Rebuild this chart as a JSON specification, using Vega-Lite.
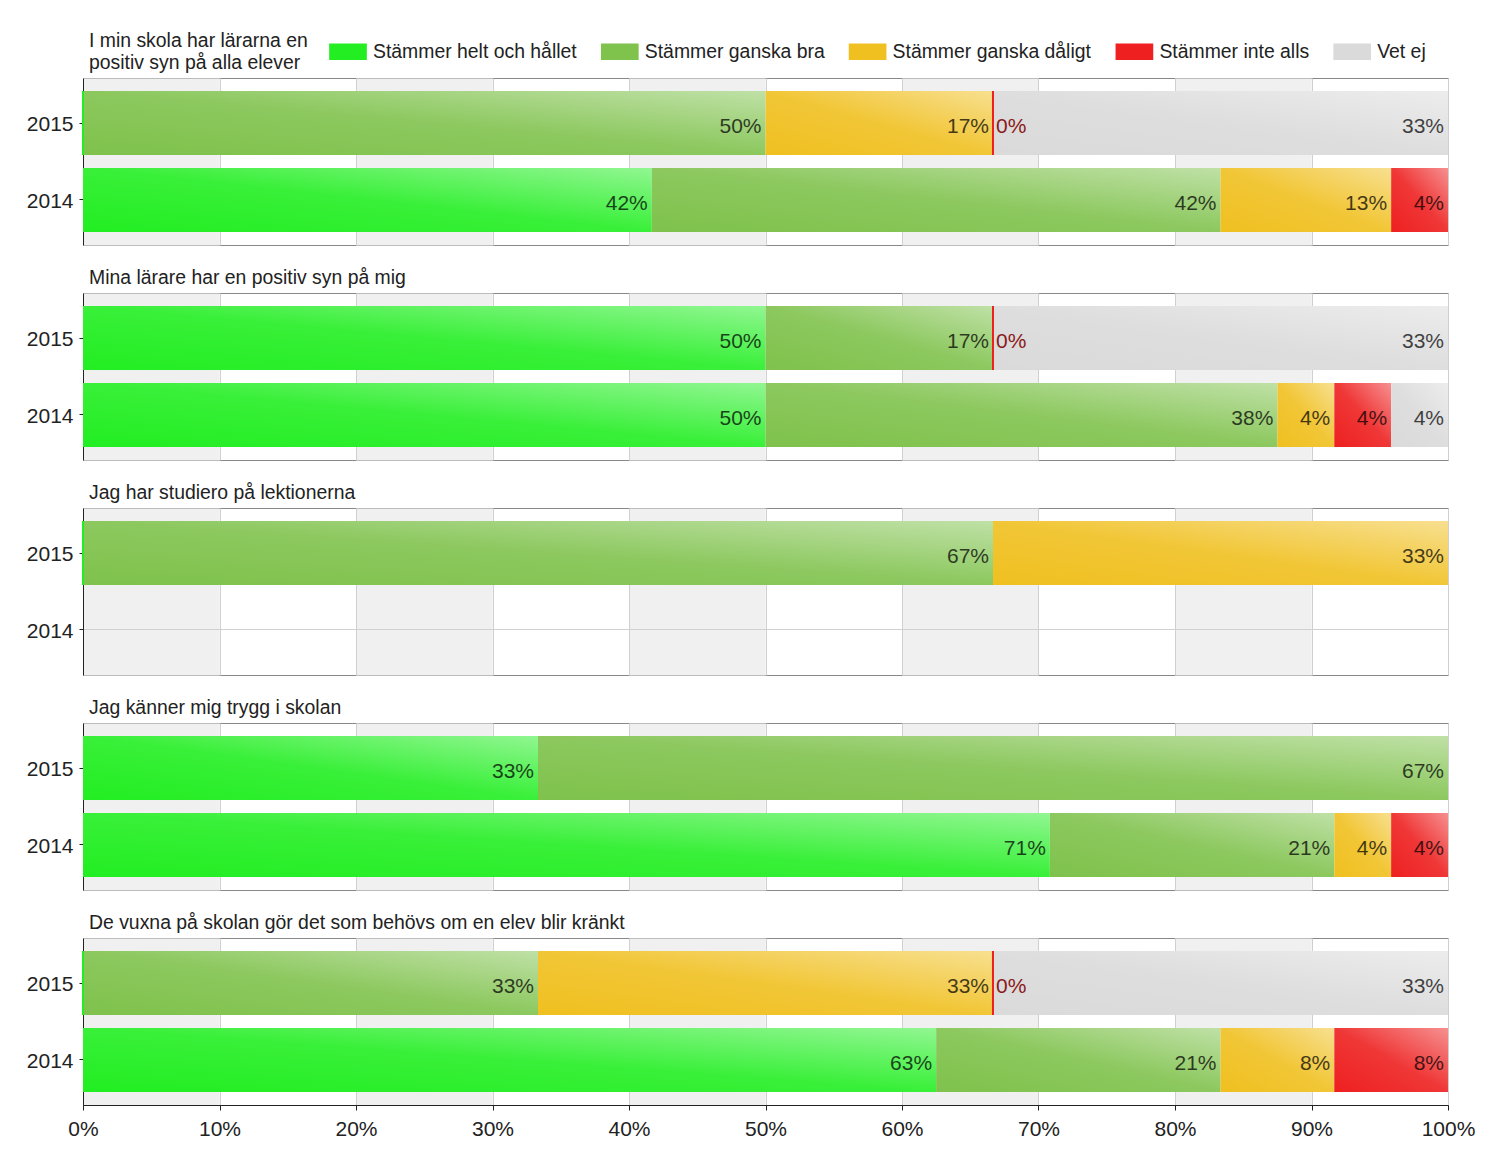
{
  "$schema": "https://vega.github.io/schema/vega-lite/v6.json",
  "padding": {"left": 25, "top": 30, "right": 5, "bottom": 5},
  "background": "white",
  "data": {"values": [
    {"q":1,"year":"2015","c":"Stämmer helt och hållet","r":1,"v":0},
    {"q":1,"year":"2015","c":"Stämmer ganska bra","r":2,"v":0.5},
    {"q":1,"year":"2015","c":"Stämmer ganska dåligt","r":3,"v":0.16667},
    {"q":1,"year":"2015","c":"Stämmer inte alls","r":4,"v":0},
    {"q":1,"year":"2015","c":"Vet ej","r":5,"v":0.33333},
    {"q":1,"year":"2014","c":"Stämmer helt och hållet","r":1,"v":0.41667},
    {"q":1,"year":"2014","c":"Stämmer ganska bra","r":2,"v":0.41667},
    {"q":1,"year":"2014","c":"Stämmer ganska dåligt","r":3,"v":0.125},
    {"q":1,"year":"2014","c":"Stämmer inte alls","r":4,"v":0.04166},
    {"q":2,"year":"2015","c":"Stämmer helt och hållet","r":1,"v":0.5},
    {"q":2,"year":"2015","c":"Stämmer ganska bra","r":2,"v":0.16667},
    {"q":2,"year":"2015","c":"Stämmer inte alls","r":4,"v":0},
    {"q":2,"year":"2015","c":"Vet ej","r":5,"v":0.33333},
    {"q":2,"year":"2014","c":"Stämmer helt och hållet","r":1,"v":0.5},
    {"q":2,"year":"2014","c":"Stämmer ganska bra","r":2,"v":0.375},
    {"q":2,"year":"2014","c":"Stämmer ganska dåligt","r":3,"v":0.04167},
    {"q":2,"year":"2014","c":"Stämmer inte alls","r":4,"v":0.04167},
    {"q":2,"year":"2014","c":"Vet ej","r":5,"v":0.04166},
    {"q":3,"year":"2015","c":"Stämmer helt och hållet","r":1,"v":0},
    {"q":3,"year":"2015","c":"Stämmer ganska bra","r":2,"v":0.66667},
    {"q":3,"year":"2015","c":"Stämmer ganska dåligt","r":3,"v":0.33333},
    {"q":4,"year":"2015","c":"Stämmer helt och hållet","r":1,"v":0.33333},
    {"q":4,"year":"2015","c":"Stämmer ganska bra","r":2,"v":0.66667},
    {"q":4,"year":"2014","c":"Stämmer helt och hållet","r":1,"v":0.70833},
    {"q":4,"year":"2014","c":"Stämmer ganska bra","r":2,"v":0.20833},
    {"q":4,"year":"2014","c":"Stämmer ganska dåligt","r":3,"v":0.04167},
    {"q":4,"year":"2014","c":"Stämmer inte alls","r":4,"v":0.04167},
    {"q":5,"year":"2015","c":"Stämmer helt och hållet","r":1,"v":0},
    {"q":5,"year":"2015","c":"Stämmer ganska bra","r":2,"v":0.33333},
    {"q":5,"year":"2015","c":"Stämmer ganska dåligt","r":3,"v":0.33333},
    {"q":5,"year":"2015","c":"Stämmer inte alls","r":4,"v":0},
    {"q":5,"year":"2015","c":"Vet ej","r":5,"v":0.33333},
    {"q":5,"year":"2014","c":"Stämmer helt och hållet","r":1,"v":0.625},
    {"q":5,"year":"2014","c":"Stämmer ganska bra","r":2,"v":0.20833},
    {"q":5,"year":"2014","c":"Stämmer ganska dåligt","r":3,"v":0.08333},
    {"q":5,"year":"2014","c":"Stämmer inte alls","r":4,"v":0.08333}
  ]},
  "spacing": 21,
  "vconcat": [
    {
      "title": {"text": ["I min skola har lärarna en", "positiv syn på alla elever"]},
      "width": 1365, "height": 167,
      "transform": [{"filter": "datum.q == 1"}, {"stack": "v", "groupby": ["year"], "sort": [{"field": "r", "order": "ascending"}], "as": ["x0", "x1"]}],
      "encoding": {"y": {"field": "year", "type": "nominal", "scale": {"domain": ["2015", "2014"], "paddingInner": 0.17, "paddingOuter": 0.17}, "axis": {"title": null, "grid": true, "gridColor": "#d0d0d0", "domainColor": "#222", "tickColor": "#222", "tickSize": 4, "labelFontSize": 21, "labelColor": "#222", "labelPadding": 6, "labelOffset": 2, "labelFont": "Liberation Sans"}}},
      "resolve": {"axis": {"x": "independent"}},
      "layer": [
        {"mark": {"type": "bar"}, "encoding": {
          "x": {"field": "x0", "type": "quantitative", "scale": {"domain": [0, 1], "nice": false}, "axis": {"orient": "top", "values": [0.05, 0.25, 0.45, 0.65, 0.85], "grid": true, "gridColor": "#f0f0f0", "gridWidth": 136.5, "labels": false, "ticks": false, "domain": false, "title": null}},
          "x2": {"field": "x1"},
          "color": {"field": "c", "type": "nominal", "scale": {"domain": ["Stämmer helt och hållet", "Stämmer ganska bra", "Stämmer ganska dåligt", "Stämmer inte alls", "Vet ej"], "range": ["#22ee22", "#7fc24c", "#f0c020", "#ee2020", "#dadada"]},
            "legend": {"orient": "none", "legendX": 246, "legendY": -45.5, "direction": "horizontal", "title": null, "symbolType": "M-1,-0.44H1V0.44H-1Z", "symbolSize": 1420, "symbolStrokeWidth": 0, "symbolOpacity": 1, "labelFontSize": 19.4, "labelFont": "Liberation Sans", "labelColor": "#222", "labelOffset": 6, "columnPadding": 23.8, "labelLimit": 400}}
        }},
        {"mark": {"type": "bar", "fill": {"gradient": "linear", "x1": 0, "y1": 1, "x2": 1, "y2": 0, "stops": [{"offset": 0, "color": "rgba(255,255,255,0)"}, {"offset": 0.5, "color": "rgba(255,255,255,0.1)"}, {"offset": 1, "color": "rgba(255,255,255,0.5)"}]}}, "transform": [{"filter": "datum.v > 0"}], "encoding": {
          "x": {"field": "x0", "type": "quantitative", "axis": {"orient": "bottom", "values": [0, 0.1, 0.2, 0.3, 0.4, 0.5, 0.6, 0.7, 0.8, 0.9, 1], "grid": true, "gridColor": "#d0d0d0", "labels": false, "ticks": false, "domain": false, "title": null}},
          "x2": {"field": "x1"}
        }},
        {"mark": {"type": "bar", "filled": false, "strokeWidth": 2}, "transform": [{"filter": "datum.v == 0"}], "encoding": {
          "x": {"field": "x0", "type": "quantitative", "axis": null}, "x2": {"field": "x1"},
          "color": {"field": "c", "type": "nominal"}
        }},
        {"mark": {"type": "text", "align": "right", "dx": -4, "dy": 4, "fontSize": 21, "font": "Liberation Sans", "fill": "#000", "opacity": 0.72}, "transform": [{"filter": "datum.v > 0"}], "encoding": {
          "x": {"field": "x1", "type": "quantitative", "axis": null},
          "text": {"field": "v", "type": "quantitative", "format": ".0%"}
        }},
        {"mark": {"type": "text", "align": "left", "dx": 3, "dy": 4, "fontSize": 21, "font": "Liberation Sans", "fill": "#8b1a1a"}, "transform": [{"filter": "datum.v == 0 && datum.x0 > 0"}], "encoding": {
          "x": {"field": "x0", "type": "quantitative", "axis": null},
          "text": {"field": "v", "type": "quantitative", "format": ".0%"}
        }}
      ]
    },
    {
      "title": {"text": "Mina lärare har en positiv syn på mig"},
      "width": 1365, "height": 167,
      "transform": [{"filter": "datum.q == 2"}, {"stack": "v", "groupby": ["year"], "sort": [{"field": "r", "order": "ascending"}], "as": ["x0", "x1"]}],
      "encoding": {"y": {"field": "year", "type": "nominal", "scale": {"domain": ["2015", "2014"], "paddingInner": 0.17, "paddingOuter": 0.17}, "axis": {"title": null, "grid": true, "gridColor": "#d0d0d0", "domainColor": "#222", "tickColor": "#222", "tickSize": 4, "labelFontSize": 21, "labelColor": "#222", "labelPadding": 6, "labelOffset": 2, "labelFont": "Liberation Sans"}}},
      "resolve": {"axis": {"x": "independent"}},
      "layer": [
        {"mark": {"type": "bar"}, "encoding": {
          "x": {"field": "x0", "type": "quantitative", "scale": {"domain": [0, 1], "nice": false}, "axis": {"orient": "top", "values": [0.05, 0.25, 0.45, 0.65, 0.85], "grid": true, "gridColor": "#f0f0f0", "gridWidth": 136.5, "labels": false, "ticks": false, "domain": false, "title": null}},
          "x2": {"field": "x1"},
          "color": {"field": "c", "type": "nominal"}
        }},
        {"mark": {"type": "bar", "fill": {"gradient": "linear", "x1": 0, "y1": 1, "x2": 1, "y2": 0, "stops": [{"offset": 0, "color": "rgba(255,255,255,0)"}, {"offset": 0.5, "color": "rgba(255,255,255,0.1)"}, {"offset": 1, "color": "rgba(255,255,255,0.5)"}]}}, "transform": [{"filter": "datum.v > 0"}], "encoding": {
          "x": {"field": "x0", "type": "quantitative", "axis": {"orient": "bottom", "values": [0, 0.1, 0.2, 0.3, 0.4, 0.5, 0.6, 0.7, 0.8, 0.9, 1], "grid": true, "gridColor": "#d0d0d0", "labels": false, "ticks": false, "domain": false, "title": null}},
          "x2": {"field": "x1"}
        }},
        {"mark": {"type": "bar", "filled": false, "strokeWidth": 2}, "transform": [{"filter": "datum.v == 0"}], "encoding": {
          "x": {"field": "x0", "type": "quantitative", "axis": null}, "x2": {"field": "x1"},
          "color": {"field": "c", "type": "nominal"}
        }},
        {"mark": {"type": "text", "align": "right", "dx": -4, "dy": 4, "fontSize": 21, "font": "Liberation Sans", "fill": "#000", "opacity": 0.72}, "transform": [{"filter": "datum.v > 0"}], "encoding": {
          "x": {"field": "x1", "type": "quantitative", "axis": null},
          "text": {"field": "v", "type": "quantitative", "format": ".0%"}
        }},
        {"mark": {"type": "text", "align": "left", "dx": 3, "dy": 4, "fontSize": 21, "font": "Liberation Sans", "fill": "#8b1a1a"}, "transform": [{"filter": "datum.v == 0 && datum.x0 > 0"}], "encoding": {
          "x": {"field": "x0", "type": "quantitative", "axis": null},
          "text": {"field": "v", "type": "quantitative", "format": ".0%"}
        }}
      ]
    },
    {
      "title": {"text": "Jag har studiero på lektionerna"},
      "width": 1365, "height": 167,
      "transform": [{"filter": "datum.q == 3"}, {"stack": "v", "groupby": ["year"], "sort": [{"field": "r", "order": "ascending"}], "as": ["x0", "x1"]}],
      "encoding": {"y": {"field": "year", "type": "nominal", "scale": {"domain": ["2015", "2014"], "paddingInner": 0.17, "paddingOuter": 0.17}, "axis": {"title": null, "grid": true, "gridColor": "#d0d0d0", "domainColor": "#222", "tickColor": "#222", "tickSize": 4, "labelFontSize": 21, "labelColor": "#222", "labelPadding": 6, "labelOffset": 2, "labelFont": "Liberation Sans"}}},
      "resolve": {"axis": {"x": "independent"}},
      "layer": [
        {"mark": {"type": "bar"}, "encoding": {
          "x": {"field": "x0", "type": "quantitative", "scale": {"domain": [0, 1], "nice": false}, "axis": {"orient": "top", "values": [0.05, 0.25, 0.45, 0.65, 0.85], "grid": true, "gridColor": "#f0f0f0", "gridWidth": 136.5, "labels": false, "ticks": false, "domain": false, "title": null}},
          "x2": {"field": "x1"},
          "color": {"field": "c", "type": "nominal"}
        }},
        {"mark": {"type": "bar", "fill": {"gradient": "linear", "x1": 0, "y1": 1, "x2": 1, "y2": 0, "stops": [{"offset": 0, "color": "rgba(255,255,255,0)"}, {"offset": 0.5, "color": "rgba(255,255,255,0.1)"}, {"offset": 1, "color": "rgba(255,255,255,0.5)"}]}}, "transform": [{"filter": "datum.v > 0"}], "encoding": {
          "x": {"field": "x0", "type": "quantitative", "axis": {"orient": "bottom", "values": [0, 0.1, 0.2, 0.3, 0.4, 0.5, 0.6, 0.7, 0.8, 0.9, 1], "grid": true, "gridColor": "#d0d0d0", "labels": false, "ticks": false, "domain": false, "title": null}},
          "x2": {"field": "x1"}
        }},
        {"mark": {"type": "bar", "filled": false, "strokeWidth": 2}, "transform": [{"filter": "datum.v == 0"}], "encoding": {
          "x": {"field": "x0", "type": "quantitative", "axis": null}, "x2": {"field": "x1"},
          "color": {"field": "c", "type": "nominal"}
        }},
        {"mark": {"type": "text", "align": "right", "dx": -4, "dy": 4, "fontSize": 21, "font": "Liberation Sans", "fill": "#000", "opacity": 0.72}, "transform": [{"filter": "datum.v > 0"}], "encoding": {
          "x": {"field": "x1", "type": "quantitative", "axis": null},
          "text": {"field": "v", "type": "quantitative", "format": ".0%"}
        }},
        {"mark": {"type": "text", "align": "left", "dx": 3, "dy": 4, "fontSize": 21, "font": "Liberation Sans", "fill": "#8b1a1a"}, "transform": [{"filter": "datum.v == 0 && datum.x0 > 0"}], "encoding": {
          "x": {"field": "x0", "type": "quantitative", "axis": null},
          "text": {"field": "v", "type": "quantitative", "format": ".0%"}
        }}
      ]
    },
    {
      "title": {"text": "Jag känner mig trygg i skolan"},
      "width": 1365, "height": 167,
      "transform": [{"filter": "datum.q == 4"}, {"stack": "v", "groupby": ["year"], "sort": [{"field": "r", "order": "ascending"}], "as": ["x0", "x1"]}],
      "encoding": {"y": {"field": "year", "type": "nominal", "scale": {"domain": ["2015", "2014"], "paddingInner": 0.17, "paddingOuter": 0.17}, "axis": {"title": null, "grid": true, "gridColor": "#d0d0d0", "domainColor": "#222", "tickColor": "#222", "tickSize": 4, "labelFontSize": 21, "labelColor": "#222", "labelPadding": 6, "labelOffset": 2, "labelFont": "Liberation Sans"}}},
      "resolve": {"axis": {"x": "independent"}},
      "layer": [
        {"mark": {"type": "bar"}, "encoding": {
          "x": {"field": "x0", "type": "quantitative", "scale": {"domain": [0, 1], "nice": false}, "axis": {"orient": "top", "values": [0.05, 0.25, 0.45, 0.65, 0.85], "grid": true, "gridColor": "#f0f0f0", "gridWidth": 136.5, "labels": false, "ticks": false, "domain": false, "title": null}},
          "x2": {"field": "x1"},
          "color": {"field": "c", "type": "nominal"}
        }},
        {"mark": {"type": "bar", "fill": {"gradient": "linear", "x1": 0, "y1": 1, "x2": 1, "y2": 0, "stops": [{"offset": 0, "color": "rgba(255,255,255,0)"}, {"offset": 0.5, "color": "rgba(255,255,255,0.1)"}, {"offset": 1, "color": "rgba(255,255,255,0.5)"}]}}, "transform": [{"filter": "datum.v > 0"}], "encoding": {
          "x": {"field": "x0", "type": "quantitative", "axis": {"orient": "bottom", "values": [0, 0.1, 0.2, 0.3, 0.4, 0.5, 0.6, 0.7, 0.8, 0.9, 1], "grid": true, "gridColor": "#d0d0d0", "labels": false, "ticks": false, "domain": false, "title": null}},
          "x2": {"field": "x1"}
        }},
        {"mark": {"type": "bar", "filled": false, "strokeWidth": 2}, "transform": [{"filter": "datum.v == 0"}], "encoding": {
          "x": {"field": "x0", "type": "quantitative", "axis": null}, "x2": {"field": "x1"},
          "color": {"field": "c", "type": "nominal"}
        }},
        {"mark": {"type": "text", "align": "right", "dx": -4, "dy": 4, "fontSize": 21, "font": "Liberation Sans", "fill": "#000", "opacity": 0.72}, "transform": [{"filter": "datum.v > 0"}], "encoding": {
          "x": {"field": "x1", "type": "quantitative", "axis": null},
          "text": {"field": "v", "type": "quantitative", "format": ".0%"}
        }},
        {"mark": {"type": "text", "align": "left", "dx": 3, "dy": 4, "fontSize": 21, "font": "Liberation Sans", "fill": "#8b1a1a"}, "transform": [{"filter": "datum.v == 0 && datum.x0 > 0"}], "encoding": {
          "x": {"field": "x0", "type": "quantitative", "axis": null},
          "text": {"field": "v", "type": "quantitative", "format": ".0%"}
        }}
      ]
    },
    {
      "title": {"text": "De vuxna på skolan gör det som behövs om en elev blir kränkt"},
      "width": 1365, "height": 167,
      "transform": [{"filter": "datum.q == 5"}, {"stack": "v", "groupby": ["year"], "sort": [{"field": "r", "order": "ascending"}], "as": ["x0", "x1"]}],
      "encoding": {"y": {"field": "year", "type": "nominal", "scale": {"domain": ["2015", "2014"], "paddingInner": 0.17, "paddingOuter": 0.17}, "axis": {"title": null, "grid": true, "gridColor": "#d0d0d0", "domainColor": "#222", "tickColor": "#222", "tickSize": 4, "labelFontSize": 21, "labelColor": "#222", "labelPadding": 6, "labelOffset": 2, "labelFont": "Liberation Sans"}}},
      "resolve": {"axis": {"x": "independent"}},
      "layer": [
        {"mark": {"type": "bar"}, "encoding": {
          "x": {"field": "x0", "type": "quantitative", "scale": {"domain": [0, 1], "nice": false}, "axis": {"orient": "top", "values": [0.05, 0.25, 0.45, 0.65, 0.85], "grid": true, "gridColor": "#f0f0f0", "gridWidth": 136.5, "labels": false, "ticks": false, "domain": false, "title": null}},
          "x2": {"field": "x1"},
          "color": {"field": "c", "type": "nominal"}
        }},
        {"mark": {"type": "bar", "fill": {"gradient": "linear", "x1": 0, "y1": 1, "x2": 1, "y2": 0, "stops": [{"offset": 0, "color": "rgba(255,255,255,0)"}, {"offset": 0.5, "color": "rgba(255,255,255,0.1)"}, {"offset": 1, "color": "rgba(255,255,255,0.5)"}]}}, "transform": [{"filter": "datum.v > 0"}], "encoding": {
          "x": {"field": "x0", "type": "quantitative", "axis": {"orient": "bottom", "values": [0, 0.1, 0.2, 0.3, 0.4, 0.5, 0.6, 0.7, 0.8, 0.9, 1], "format": ".0%", "grid": true, "gridColor": "#d0d0d0", "labels": true, "labelFlush": false, "labelFontSize": 21, "labelColor": "#222", "labelFont": "Liberation Sans", "labelPadding": 8, "ticks": true, "tickSize": 5, "tickColor": "#222", "domain": true, "domainColor": "#222", "title": null}},
          "x2": {"field": "x1"}
        }},
        {"mark": {"type": "bar", "filled": false, "strokeWidth": 2}, "transform": [{"filter": "datum.v == 0"}], "encoding": {
          "x": {"field": "x0", "type": "quantitative", "axis": null}, "x2": {"field": "x1"},
          "color": {"field": "c", "type": "nominal"}
        }},
        {"mark": {"type": "text", "align": "right", "dx": -4, "dy": 4, "fontSize": 21, "font": "Liberation Sans", "fill": "#000", "opacity": 0.72}, "transform": [{"filter": "datum.v > 0"}], "encoding": {
          "x": {"field": "x1", "type": "quantitative", "axis": null},
          "text": {"field": "v", "type": "quantitative", "format": ".0%"}
        }},
        {"mark": {"type": "text", "align": "left", "dx": 3, "dy": 4, "fontSize": 21, "font": "Liberation Sans", "fill": "#8b1a1a"}, "transform": [{"filter": "datum.v == 0 && datum.x0 > 0"}], "encoding": {
          "x": {"field": "x0", "type": "quantitative", "axis": null},
          "text": {"field": "v", "type": "quantitative", "format": ".0%"}
        }}
      ]
    }
  ],
  "config": {
    "font": "Liberation Sans",
    "view": {"stroke": "#888"},
    "title": {"anchor": "start", "frame": "group", "font": "Liberation Sans", "fontSize": 19.4, "fontWeight": "normal", "color": "#222", "offset": 5, "dx": 6, "baseline": "bottom", "lineHeight": 22}
  }
}
